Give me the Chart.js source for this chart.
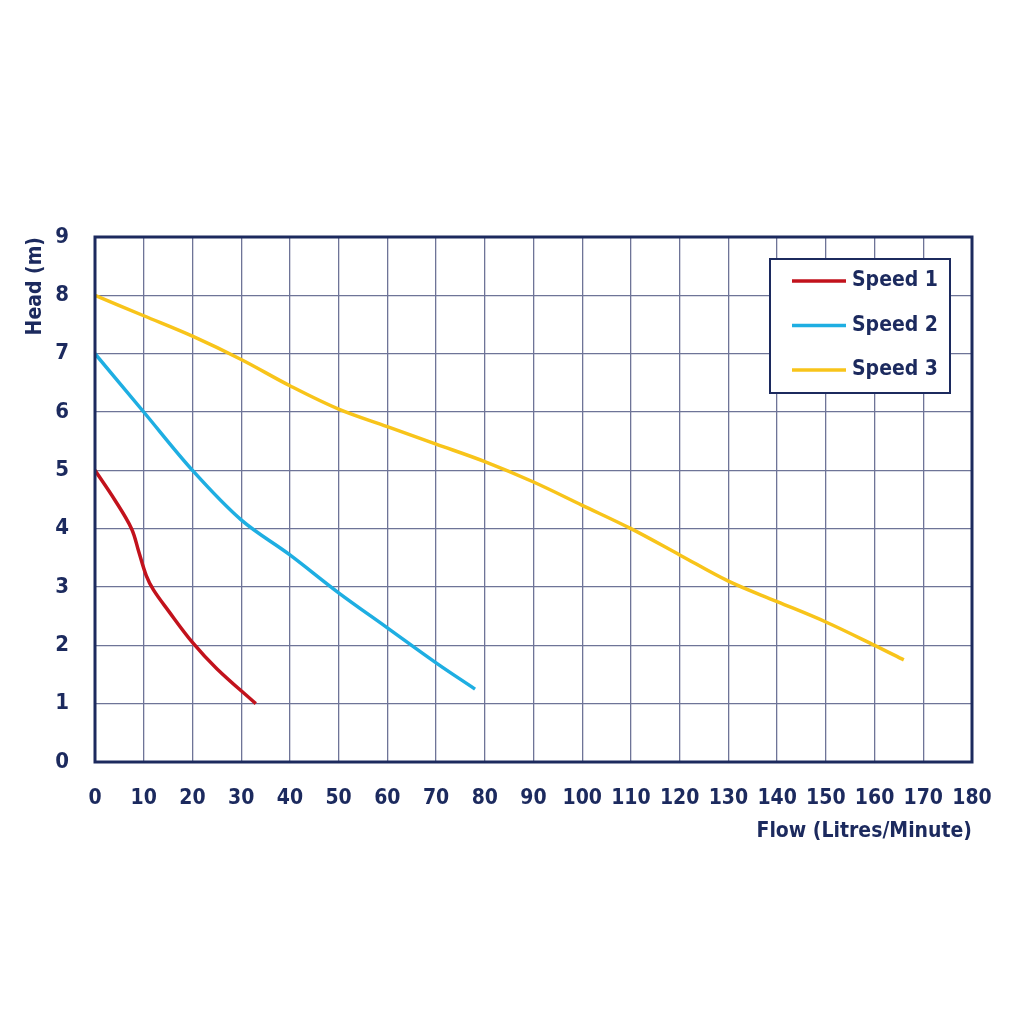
<!DOCTYPE html>
<html>
<head>
<meta charset="utf-8">
<script src="https://cdn.jsdelivr.net/npm/chart.js@4"></script>
<style>
    html, body { margin: 0; padding: 0; background: #ffffff; }
    #wrap { width: 1024px; height: 1024px; }
</style>
</head>
<body>
<div id="wrap"><canvas id="pump-chart" width="1024" height="1024"></canvas></div>
<script>
// Data
var seriesNames = ['Speed 1', 'Speed 2', 'Speed 3'];
var seriesColors = ['#c2121c', '#1eaee2', '#f8c41a'];

var flow1 = [0, 4, 7.5, 9, 10.5, 12, 15, 20, 25, 33];
var head1 = [5, 4.5, 4, 3.6, 3.2, 2.95, 2.6, 2.05, 1.6, 1];

var flow2 = [0, 10, 20, 30, 40, 50, 60, 70, 78];
var head2 = [7, 6, 5, 4.15, 3.55, 2.9, 2.3, 1.7, 1.25];

var flow3 = [0, 10, 20, 30, 40, 50, 60, 70, 80, 90, 100, 110, 120, 130, 140, 150, 160, 166];
var head3 = [8, 7.65, 7.3, 6.9, 6.45, 6.05, 5.75, 5.45, 5.15, 4.8, 4.4, 4.0, 3.55, 3.1, 2.75, 2.4, 2.0, 1.75];

var navy = '#1c2a5e';
var gridColor = '#6e7497';
var fontFamily = "'DejaVu Sans Condensed', 'Liberation Sans Narrow', Roboto, sans-serif";

function toPoints(xs, ys) {
    var pts = [];
    for (var i = 0; i < xs.length; i++) {
        pts.push({ x: xs[i], y: ys[i] });
    }
    return pts;
}

// Plot frame (all four sides) drawn over the grid
var plotFrame = {
    id: 'plotFrame',
    afterDatasetsDraw: function (chart) {
        var a = chart.chartArea;
        var ctx = chart.ctx;
        ctx.save();
        ctx.strokeStyle = navy;
        ctx.lineWidth = 3;
        ctx.strokeRect(a.left, a.top, a.right - a.left, a.bottom - a.top);
        ctx.restore();
    }
};

// Boxed legend inside the plot area
var boxLegend = {
    id: 'boxLegend',
    afterDraw: function (chart) {
        var ctx = chart.ctx;
        var x = 770, y = 259, w = 180, h = 134;
        ctx.save();
        ctx.fillStyle = '#ffffff';
        ctx.fillRect(x, y, w, h);
        ctx.strokeStyle = navy;
        ctx.lineWidth = 2;
        ctx.strokeRect(x, y, w, h);
        ctx.font = 'bold 21px ' + fontFamily;
        ctx.textBaseline = 'middle';
        chart.data.datasets.forEach(function (ds, i) {
            var ly = 281 + i * 44.5;
            ctx.strokeStyle = ds.borderColor;
            ctx.lineWidth = 3.5;
            ctx.beginPath();
            ctx.moveTo(792, ly);
            ctx.lineTo(846, ly);
            ctx.stroke();
            ctx.fillStyle = navy;
            ctx.fillText(ds.label, 852, ly);
        });
        ctx.restore();
    }
};

var datasets = [];
[[flow1, head1], [flow2, head2], [flow3, head3]].forEach(function (s, i) {
    datasets.push({
        label: seriesNames[i],
        data: toPoints(s[0], s[1]),
        borderColor: seriesColors[i],
        borderWidth: 3.5,
        pointRadius: 0,
        tension: 0.35,
        fill: false
    });
});

new Chart(document.getElementById('pump-chart').getContext('2d'), {
    type: 'line',
    data: { datasets: datasets },
    plugins: [plotFrame, boxLegend],
    options: {
        responsive: false,
        animation: false,
        layout: {
            padding: { left: 23, right: 52, top: 237, bottom: 180 }
        },
        plugins: {
            legend: { display: false },
            tooltip: { enabled: false }
        },
        scales: {
            x: {
                type: 'linear',
                min: 0,
                max: 180,
                afterFit: function (scale) { scale.height = 82; },
                ticks: {
                    stepSize: 10,
                    padding: 24,
                    color: navy,
                    font: { family: fontFamily, size: 21, weight: 'bold' }
                },
                grid: {
                    color: gridColor,
                    lineWidth: 1.3,
                    drawTicks: false
                },
                border: { display: false },
                title: {
                    display: true,
                    text: 'Flow (Litres/Minute)',
                    align: 'end',
                    color: navy,
                    padding: { top: 6, bottom: 0 },
                    font: { family: fontFamily, size: 21, weight: 'bold' }
                }
            },
            y: {
                min: 0,
                max: 9,
                afterFit: function (scale) { scale.width = 72; },
                ticks: {
                    stepSize: 1,
                    padding: 26,
                    color: navy,
                    font: { family: fontFamily, size: 22, weight: 'bold' }
                },
                grid: {
                    color: gridColor,
                    lineWidth: 1.3,
                    drawTicks: false
                },
                border: { display: false },
                title: {
                    display: true,
                    text: 'Head (m)',
                    align: 'end',
                    color: navy,
                    padding: { top: 0, bottom: 6 },
                    font: { family: fontFamily, size: 21, weight: 'bold' }
                }
            }
        }
    }
});
</script>
</body>
</html>
